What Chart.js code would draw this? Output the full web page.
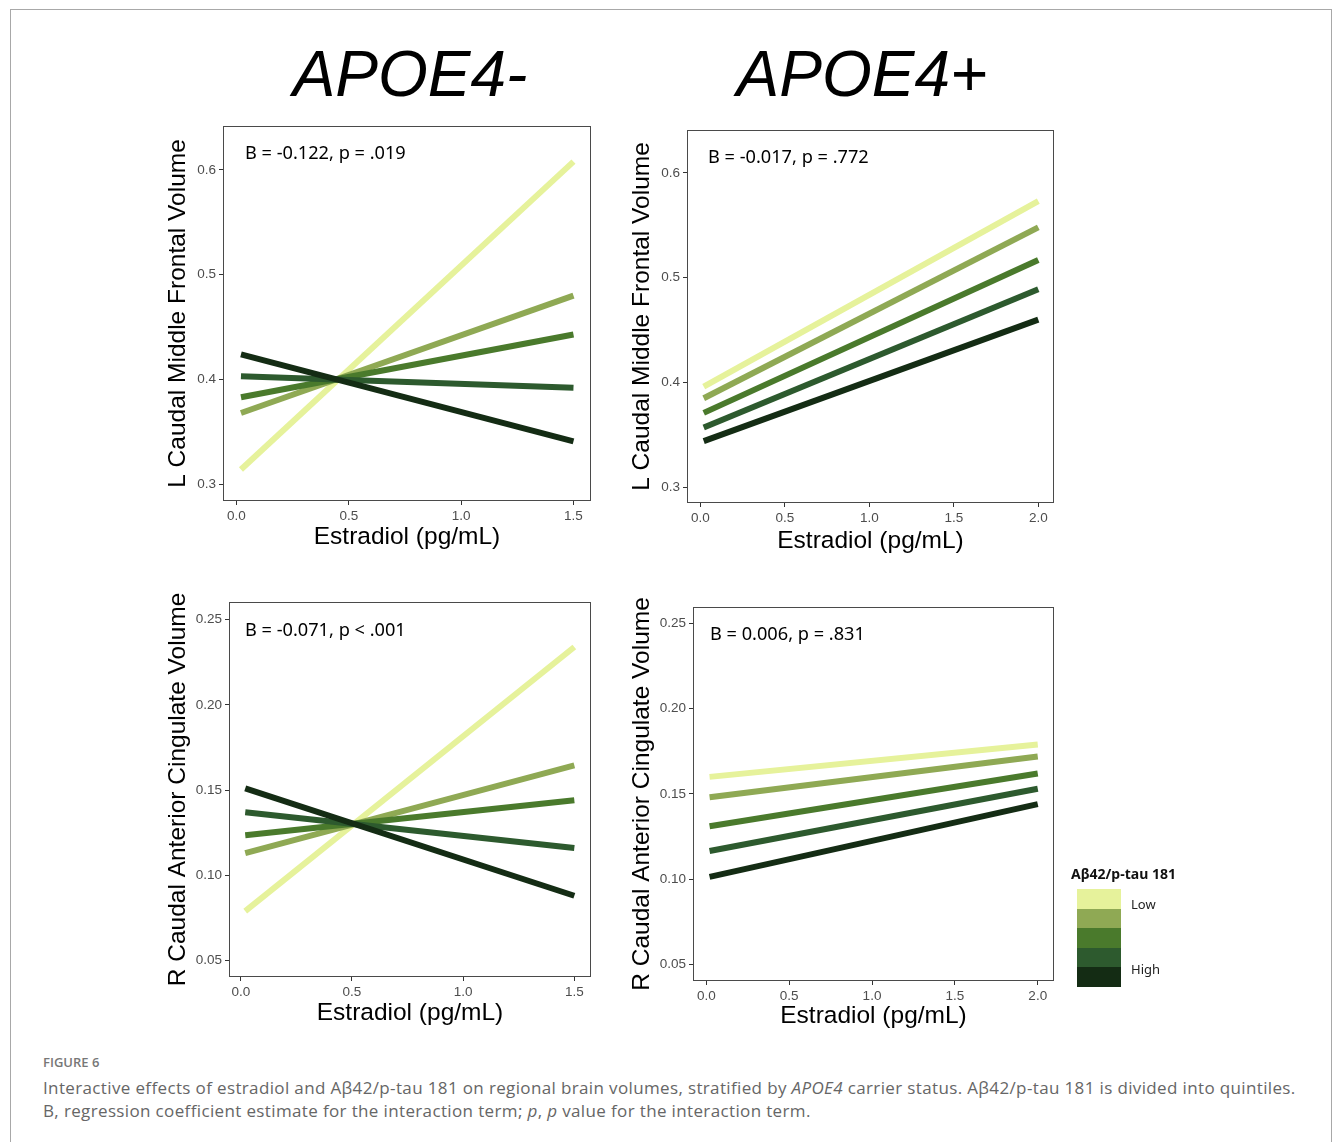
<!DOCTYPE html>
<html>
<head>
<meta charset="utf-8">
<script src="https://cdn.jsdelivr.net/npm/chart.js@4.4.1/dist/chart.umd.min.js"></script>
<style>
  html, body { margin: 0; padding: 0; background: #fff; }
  body { width: 1335px; height: 1142px; position: relative; overflow: hidden; }
  #frame { position: absolute; left: 10px; top: 9px; width: 1322px; height: 1160px; border: 1px solid #a8a8a8; box-sizing: border-box; }
  .ttl { position: absolute; font-family: "Liberation Sans", Arial, sans-serif; font-style: italic; font-size: 64px; color: #000; line-height: 1; white-space: nowrap; transform: translateX(-50%); }
  canvas { position: absolute; }
  #legend { position: absolute; left: 1071px; top: 864px; font-family: "Noto Sans", sans-serif; }
  #legend .lt { font-weight: 700; font-size: 14px; color: #111; white-space: nowrap; line-height: 20px; }
  #keys { position: absolute; left: 6px; top: 25px; width: 44px; }
  #keys div { width: 44px; height: 19.6px; }
  .ll { position: absolute; left: 60px; font-size: 13px; color: #222; line-height: 16px; }
  #cap { position: absolute; left: 43px; top: 1052px; font-family: "Open Sans", sans-serif; color: #666; }
  #cap .fig { font-size: 13px; font-weight: 600; color: #777; line-height: 20px; }
  #cap .txt { font-size: 17px; line-height: 23px; white-space: nowrap; letter-spacing: 0.36px; }
  #cap .l1 { margin-top: 4px; }
</style>
</head>
<body>
<div id="frame"></div>
<div class="ttl" style="left:410px; top:42px;">APOE4-</div>
<div class="ttl" style="left:862px; top:42px;">APOE4+</div>

<canvas id="c1"></canvas>
<canvas id="c2"></canvas>
<canvas id="c3"></canvas>
<canvas id="c4"></canvas>

<div id="legend">
  <div class="lt">Aβ42/p-tau 181</div>
  <div id="keys"></div>
  <div class="ll" style="top:32px;">Low</div>
  <div class="ll" style="top:97px;">High</div>
</div>

<div id="cap">
  <div class="fig">FIGURE 6</div>
  <div class="txt l1">Interactive effects of estradiol and Aβ42/p-tau 181 on regional brain volumes, stratified by <i>APOE4</i> carrier status. Aβ42/p-tau 181 is divided into quintiles.</div>
  <div class="txt">B, regression coefficient estimate for the interaction term; <i>p</i>, <i>p</i> value for the interaction term.</div>
</div>

<script>
// ---------------- DATA ----------------
const groups = ["Q1 (Low)", "Q2", "Q3", "Q4", "Q5 (High)"];
const groupColors = ["#e6f29b", "#8fa954", "#4a7a2c", "#2d5a2e", "#142c14"];
const legendLabels = ["Low", "High"];

// Estradiol (pg/mL) range of the fitted lines
const xNeg = [0.02, 1.5];   // APOE4-
const xPos = [0.02, 2.0];   // APOE4+

// L Caudal Middle Frontal Volume, fitted values at start/end of x range
const lcmfNegStart = [0.314, 0.368, 0.383, 0.403, 0.424];
const lcmfNegEnd   = [0.608, 0.480, 0.443, 0.392, 0.341];
const lcmfPosStart = [0.396, 0.385, 0.371, 0.357, 0.344];
const lcmfPosEnd   = [0.573, 0.548, 0.517, 0.489, 0.460];

// R Caudal Anterior Cingulate Volume
const rcacNegStart = [0.079, 0.113, 0.1235, 0.137, 0.151];
const rcacNegEnd   = [0.234, 0.1645, 0.144, 0.116, 0.088];
const rcacPosStart = [0.160, 0.148, 0.131, 0.1165, 0.1013];
const rcacPosEnd   = [0.179, 0.172, 0.162, 0.153, 0.144];

// Tick labels
const xTicksNeg = [0.0, 0.5, 1.0, 1.5];
const xTicksPos = [0.0, 0.5, 1.0, 1.5, 2.0];
const yTicksLcmf = [0.3, 0.4, 0.5, 0.6];
const yTicksRcac = [0.05, 0.10, 0.15, 0.20, 0.25];

const annotations = ["B = -0.122, p = .019", "B = -0.017, p = .772", "B = -0.071, p < .001", "B = 0.006, p = .831"];
const yTitles = ["L Caudal Middle Frontal Volume", "R Caudal Anterior Cingulate Volume"];
const xTitle = "Estradiol (pg/mL)";

// ---------------- LEGEND ----------------
const keys = document.getElementById('keys');
groupColors.forEach(c => { const d = document.createElement('div'); d.style.background = c; keys.appendChild(d); });

// ---------------- CHARTS ----------------
const boxPlugin = {
  id: 'panelBox',
  afterDatasetsDraw(chart) {
    const a = chart.chartArea, ctx = chart.ctx;
    ctx.save();
    ctx.strokeStyle = '#4a4a4a';
    ctx.lineWidth = 1;
    ctx.strokeRect(Math.round(a.left) + 0.5, Math.round(a.top) + 0.5, Math.round(a.right - a.left) - 1, Math.round(a.bottom - a.top) - 1);
    ctx.restore();
  }
};
const notePlugin = {
  id: 'note',
  afterDraw(chart, args, opts) {
    const a = chart.chartArea, ctx = chart.ctx;
    ctx.save();
    ctx.font = '18.2px "Noto Sans", sans-serif';
    ctx.fillStyle = '#000';
    ctx.textBaseline = 'middle';
    ctx.textAlign = 'left';
    ctx.fillText(opts.text, a.left + opts.dx, a.top + opts.dy);
    ctx.restore();
  }
};

function makePanel(id, cfg) {
  const lh = 1.2, tsize = 24.5, half = tsize * lh / 2;
  const cL = cfg.L - 75, cT = cfg.T - 15, cR = cfg.R + 20, cB = cfg.B + 62;
  const W = Math.round(cR - cL), H = Math.round(cB - cT);
  const cv = document.getElementById(id);
  cv.width = W; cv.height = H;
  cv.style.left = cL + 'px'; cv.style.top = cT + 'px';
  cv.style.width = W + 'px'; cv.style.height = H + 'px';
  const datasets = groups.map((g, i) => ({
    label: g,
    data: [{x: cfg.x[0], y: cfg.ys[i]}, {x: cfg.x[1], y: cfg.ye[i]}],
    showLine: true,
    borderColor: groupColors[i],
    backgroundColor: groupColors[i],
    borderWidth: 6,
    borderCapStyle: 'butt',
    pointRadius: 0,
    pointHoverRadius: 0,
    order: groups.length - 1 - i
  }));
  const tickFont = {family: '"Liberation Sans", Arial, sans-serif', size: 13.5};
  const titleFont = {family: '"Liberation Sans", Arial, sans-serif', size: tsize, lineHeight: lh};
  new Chart(cv, {
    type: 'scatter',
    data: {datasets},
    options: {
      responsive: false,
      animation: false,
      devicePixelRatio: 1,
      events: [],
      layout: {padding: {left: 0, top: cfg.T - cT, right: W - (cfg.R - cL), bottom: 0}},
      plugins: {
        legend: {display: false},
        tooltip: {enabled: false},
        note: {text: cfg.note, dx: cfg.ndx, dy: cfg.ndy}
      },
      scales: {
        x: {
          type: 'linear', min: cfg.xmin, max: cfg.xmax,
          afterBuildTicks: s => { s.ticks = cfg.xt.map(v => ({value: v})); },
          afterFit: s => { s.height = H - (cfg.B - cT); },
          ticks: {font: tickFont, color: '#4d4d4d', padding: 3, maxRotation: 0, callback: v => Number(v).toFixed(1)},
          grid: {display: true, drawOnChartArea: false, drawTicks: true, tickLength: 4, color: '#333', lineWidth: 1},
          border: {display: false},
          title: {display: true, text: xTitle, color: '#000', font: titleFont,
                  padding: {top: 0, bottom: H - half - (cfg.xTitleY - cT)}}
        },
        y: {
          type: 'linear', min: cfg.ymin, max: cfg.ymax,
          afterBuildTicks: s => { s.ticks = cfg.yt.map(v => ({value: v})); },
          afterFit: s => { s.width = cfg.L - cL; },
          ticks: {font: tickFont, color: '#4d4d4d', padding: 3, callback: v => Number(v).toFixed(cfg.ydec)},
          grid: {display: true, drawOnChartArea: false, drawTicks: true, tickLength: 4, color: '#333', lineWidth: 1},
          border: {display: false},
          title: {display: true, text: cfg.ytitle, color: '#000', font: titleFont,
                  padding: {top: cfg.yTitleX - cL - half, bottom: 0}}
        }
      }
    },
    plugins: [boxPlugin, notePlugin]
  });
}

makePanel('c1', {L: 223, T: 126, R: 591, B: 501, xmin: -0.06, xmax: 1.578, ymin: 0.284, ymax: 0.642,
  x: xNeg, ys: lcmfNegStart, ye: lcmfNegEnd, xt: xTicksNeg, yt: yTicksLcmf, ydec: 1,
  ytitle: yTitles[0], note: annotations[0], ndx: 22, ndy: 28, yTitleX: 178, xTitleY: 537});
makePanel('c2', {L: 687, T: 130, R: 1054, B: 503, xmin: -0.079, xmax: 2.093, ymin: 0.285, ymax: 0.641,
  x: xPos, ys: lcmfPosStart, ye: lcmfPosEnd, xt: xTicksPos, yt: yTicksLcmf, ydec: 1,
  ytitle: yTitles[0], note: annotations[1], ndx: 21, ndy: 28, yTitleX: 642, xTitleY: 541});
makePanel('c3', {L: 229, T: 602, R: 591, B: 977, xmin: -0.053, xmax: 1.575, ymin: 0.0403, ymax: 0.2604,
  x: xNeg, ys: rcacNegStart, ye: rcacNegEnd, xt: xTicksNeg, yt: yTicksRcac, ydec: 2,
  ytitle: yTitles[1], note: annotations[2], ndx: 16, ndy: 29, yTitleX: 178, xTitleY: 1013});
makePanel('c4', {L: 693, T: 607, R: 1054, B: 981, xmin: -0.08, xmax: 2.098, ymin: 0.0402, ymax: 0.2597,
  x: xPos, ys: rcacPosStart, ye: rcacPosEnd, xt: xTicksPos, yt: yTicksRcac, ydec: 2,
  ytitle: yTitles[1], note: annotations[3], ndx: 17, ndy: 28, yTitleX: 642, xTitleY: 1016});
</script>
</body>
</html>
